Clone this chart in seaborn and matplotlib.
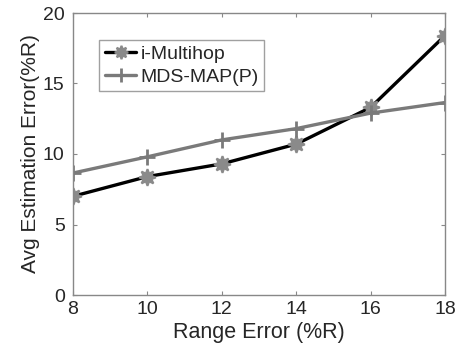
import matplotlib
matplotlib.use("Agg")
import matplotlib.pyplot as plt
import seaborn as sns
import pandas as pd

range_error = [8, 10, 12, 14, 16, 18]
i_multihop = [7.0, 8.4, 9.3, 10.7, 13.3, 18.4]
mds_map = [8.65, 9.8, 11.0, 11.8, 12.9, 13.65]

sns.set_style("white")
plt.rcParams['font.family'] = ['Liberation Sans', 'DejaVu Sans']

df = pd.DataFrame({"x": range_error, "i-Multihop": i_multihop, "MDS-MAP(P)": mds_map})

fig = plt.figure(figsize=(4.57, 3.62), dpi=100)
ax = fig.add_axes([73/457, 1 - 295/362, (445-73)/457, (295-13)/362])

sns.lineplot(data=df, x="x", y="i-Multihop", ax=ax, color="black", lw=2.4,
             marker=(8, 1, 0), markersize=12, markerfacecolor="#8a8a8a", markeredgecolor="#8a8a8a",
             markeredgewidth=1.5, label="i-Multihop")
sns.lineplot(data=df, x="x", y="MDS-MAP(P)", ax=ax, color="#7a7a7a", lw=2.4,
             marker="+", markersize=12, markeredgewidth=2, markeredgecolor="#7a7a7a",
             label="MDS-MAP(P)")

ax.set_xlim(8, 18)
ax.set_ylim(0, 20)
ax.set_xticks(range_error)
ax.set_yticks([0, 5, 10, 15, 20])
ax.set_xlabel("Range Error (%R)", fontsize=15.5, labelpad=3)
ax.set_ylabel("Avg Estimation Error(%R)", fontsize=15, labelpad=2)
ax.tick_params(labelsize=14, direction="in", length=3, color="#888888",
               top=True, right=True, bottom=True, left=True)
ax.tick_params(axis="y", pad=6)
ax.tick_params(axis="x", pad=4)
for s in ax.spines.values():
    s.set_color("#888888")
    s.set_linewidth(1)

leg = ax.legend(loc="upper left", bbox_to_anchor=(0.045, 0.94), fontsize=14,
                frameon=True, fancybox=False, edgecolor="#888888",
                handlelength=1.6, handletextpad=0.2, borderpad=0.3, labelspacing=0.25,
                markerscale=0.8)
leg.get_frame().set_linewidth(1)

fig.savefig("out.png", dpi=100)
